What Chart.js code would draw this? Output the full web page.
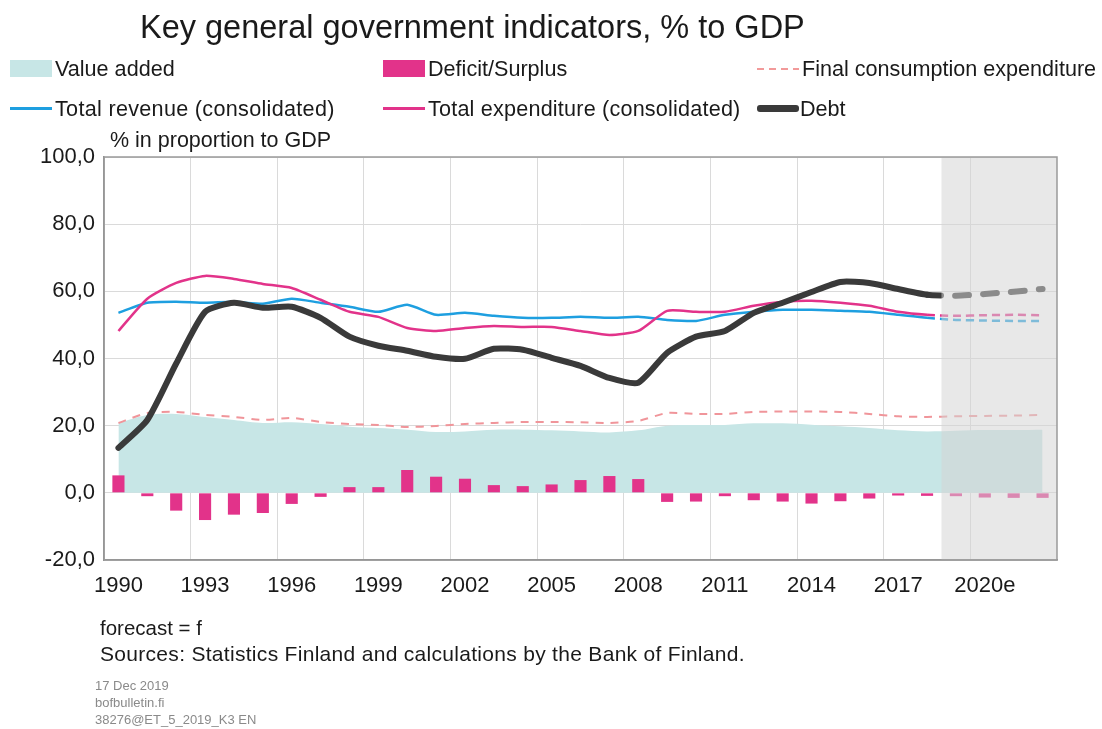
<!DOCTYPE html>
<html>
<head>
<meta charset="utf-8">
<script src="https://cdn.jsdelivr.net/npm/chart.js@4"></script>
<style>
  body { margin: 0; background: #fff; font-family: "Liberation Sans", Arial, sans-serif; color: #1a1a1a; }
  #wrap { position: absolute; left: 0; top: 0; width: 1102px; height: 729px; }
  .txt { position: absolute; white-space: nowrap; line-height: 1; }
  .sw { position: absolute; }
</style>
</head>
<body>
<div id="wrap"><canvas id="govChart"></canvas></div>

<div class="txt" style="left:140px; top:11px; font-size:32.5px;">Key general government indicators, % to GDP</div>

<!-- legend -->
<div class="sw" style="left:10px; top:60px; width:42px; height:17px; background:#c7e6e6;"></div>
<div class="txt" style="left:55px; top:58px; font-size:21.6px;">Value added</div>
<div class="sw" style="left:383px; top:60px; width:42px; height:17px; background:#e2338a;"></div>
<div class="txt" style="left:428px; top:58px; font-size:21.6px;">Deficit/Surplus</div>
<div class="sw" style="left:757px; top:68px; width:42px; height:2px; background:repeating-linear-gradient(90deg,#f29a9a 0 7px,transparent 7px 12px);"></div>
<div class="txt" style="left:802px; top:58px; font-size:21.6px;">Final consumption expenditure</div>

<div class="sw" style="left:10px; top:107px; width:42px; height:3px; background:#1e9fe0;"></div>
<div class="txt" style="left:55px; top:98px; font-size:21.6px; letter-spacing:0.3px;">Total revenue (consolidated)</div>
<div class="sw" style="left:383px; top:107px; width:42px; height:3px; background:#e2338a;"></div>
<div class="txt" style="left:428px; top:98px; font-size:21.6px; letter-spacing:0.2px;">Total expenditure (consolidated)</div>
<div class="sw" style="left:757px; top:105px; width:42px; height:7px; border-radius:3px; background:#3a3a3a;"></div>
<div class="txt" style="left:800px; top:98px; font-size:21.6px;">Debt</div>

<div class="txt" style="left:110px; top:130px; font-size:21.5px;">% in proportion to GDP</div>

<div class="txt" style="left:100px; top:618px; font-size:20.5px;">forecast = f</div>
<div class="txt" style="left:100px; top:643px; font-size:21px; letter-spacing:0.3px;">Sources: Statistics Finland and calculations by the Bank of Finland.</div>
<div class="txt" style="left:95px; top:679px; font-size:13px; color:#8a8a8a;">17 Dec 2019</div>
<div class="txt" style="left:95px; top:696px; font-size:13px; color:#8a8a8a;">bofbulletin.fi</div>
<div class="txt" style="left:95px; top:713px; font-size:13px; color:#8a8a8a;">38276@ET_5_2019_K3 EN</div>

<script>
// categories 1990-2022, forecast from 2019
const years = ['1990', '1991', '1992', '1993', '1994', '1995', '1996', '1997', '1998', '1999',
    '2000', '2001', '2002', '2003', '2004', '2005', '2006', '2007', '2008', '2009',
    '2010', '2011', '2012', '2013', '2014', '2015', '2016', '2017', '2018',
    '2019e', '2020e', '2021e', '2022e'];
const lastActual = 28; // index of 2018

const valueAdded = [20.8, 23.2, 23.5, 22.6, 21.7, 20.8, 21.0, 20.5, 19.7, 19.3,
    18.8, 18.1, 18.3, 18.8, 18.8, 18.6, 18.3, 18.0, 18.6, 20.0,
    20.2, 20.2, 20.7, 20.7, 20.3, 19.8, 19.3, 18.6, 18.3,
    18.5, 18.7, 18.7, 18.8];
const deficitSurplus = [5.2, -1.0, -5.3, -8.1, -6.5, -6.0, -3.3, -1.2, 1.7, 1.7,
    6.8, 4.8, 4.2, 2.3, 2.0, 2.5, 3.8, 5.0, 4.1, -2.7,
    -2.6, -1.0, -2.2, -2.6, -3.2, -2.5, -1.7, -0.8, -0.9,
    -1.0, -1.4, -1.5, -1.5];
const finalConsumption = [20.8, 23.8, 24.1, 23.2, 22.6, 21.7, 22.3, 21.1, 20.5, 20.2,
    19.6, 19.9, 20.5, 20.8, 21.1, 21.1, 21.0, 20.8, 21.4, 23.8,
    23.5, 23.5, 24.1, 24.2, 24.2, 24.1, 23.5, 22.8, 22.6,
    22.8, 22.9, 23.0, 23.2];
const totalRevenue = [53.6, 56.6, 56.9, 56.6, 56.9, 56.3, 57.8, 56.6, 55.4, 53.9,
    56.0, 53.0, 53.6, 52.7, 52.1, 52.1, 52.4, 52.1, 52.4, 51.5,
    51.2, 53.0, 53.9, 54.5, 54.5, 54.2, 53.9, 53.0, 52.1,
    51.5, 51.3, 51.2, 51.2];
const totalExpenditure = [48.2, 57.8, 62.5, 64.6, 63.7, 62.2, 61.0, 57.5, 53.9, 52.4,
    49.1, 48.2, 49.1, 49.7, 49.4, 49.4, 48.2, 47.0, 48.2, 54.2,
    53.9, 53.9, 55.7, 56.9, 57.2, 56.6, 55.7, 53.9, 53.0,
    52.7, 52.9, 53.0, 52.9];
const debt = [13.4, 21.7, 38.5, 53.9, 56.6, 55.1, 55.4, 52.1, 46.5, 43.8,
    42.3, 40.5, 39.9, 42.9, 42.6, 40.2, 37.8, 34.2, 32.8, 41.7,
    46.5, 48.2, 53.6, 56.6, 59.8, 62.8, 62.5, 60.7, 59.0,
    58.7, 59.2, 59.9, 60.7];

const yTicks = [-20, 0, 20, 40, 60, 80, 100];

const isForecast = (c) => c.p0DataIndex >= lastActual;

// translucent grey veil over the forecast years + frame round the plot
const forecastBand = {
    id: 'forecastBand',
    afterDatasetsDraw(chart) {
        const { ctx, chartArea, scales } = chart;
        const x0 = scales.x.getPixelForValue(lastActual + 0.5);
        ctx.save();
        ctx.fillStyle = 'rgba(212, 212, 212, 0.53)';
        ctx.fillRect(x0, chartArea.top, chartArea.right - x0, chartArea.bottom - chartArea.top);
        ctx.strokeStyle = '#9a9a9a';
        ctx.lineWidth = 1.5;
        ctx.strokeRect(chartArea.left, chartArea.top, chartArea.right - chartArea.left, chartArea.bottom - chartArea.top);
        ctx.restore();
    }
};

Chart.defaults.font.family = '"Liberation Sans", Arial, sans-serif';
Chart.defaults.color = '#1a1a1a';

const ctx = document.getElementById('govChart').getContext('2d');
const govChart = new Chart(ctx, {
    type: 'bar',
    data: {
        labels: years,
        datasets: [
            {
                type: 'line',
                label: 'Debt',
                data: debt,
                borderColor: '#3a3a3a',
                borderWidth: 6,
                borderCapStyle: 'round',
                borderJoinStyle: 'round',
                pointRadius: 0,
                tension: 0.2,
                order: 0,
                segment: {
                    borderDash: c => isForecast(c) ? [14, 14] : undefined
                }
            },
            {
                type: 'line',
                label: 'Total expenditure (consolidated)',
                data: totalExpenditure,
                borderColor: '#e2338a',
                borderWidth: 2.5,
                pointRadius: 0,
                tension: 0.2,
                order: 1,
                segment: {
                    borderDash: c => isForecast(c) ? [8, 5] : undefined
                }
            },
            {
                type: 'line',
                label: 'Total revenue (consolidated)',
                data: totalRevenue,
                borderColor: '#1e9fe0',
                borderWidth: 2.5,
                pointRadius: 0,
                tension: 0.2,
                order: 2,
                segment: {
                    borderDash: c => isForecast(c) ? [8, 5] : undefined
                }
            },
            {
                type: 'line',
                label: 'Final consumption expenditure',
                data: finalConsumption,
                borderColor: '#f0959a',
                borderWidth: 2,
                borderDash: [8, 7],
                pointRadius: 0,
                tension: 0.2,
                order: 3
            },
            {
                label: 'Deficit/Surplus',
                data: deficitSurplus,
                backgroundColor: '#e2338a',
                barPercentage: 0.42,
                categoryPercentage: 1,
                order: 4
            },
            {
                type: 'line',
                label: 'Value added',
                data: valueAdded,
                backgroundColor: '#c7e6e6',
                borderWidth: 0,
                pointRadius: 0,
                fill: 'origin',
                tension: 0.3,
                order: 5
            }
        ]
    },
    options: {
        responsive: true,
        maintainAspectRatio: false,
        animation: false,
        layout: {
            padding: { top: 157, left: 0, right: 45, bottom: 109 }
        },
        scales: {
            x: {
                offset: true,
                grid: {
                    offset: true,
                    drawTicks: false,
                    color: c => c.index % 3 === 0 ? '#dadada' : 'rgba(0,0,0,0)'
                },
                border: { color: '#8a8a8a', width: 1.5 },
                ticks: {
                    autoSkip: false,
                    maxRotation: 0,
                    padding: 13,
                    font: { size: 22 },
                    callback: function (value, index) {
                        return index % 3 === 0 ? years[index] : '';
                    }
                },
                afterFit: function (scale) { scale.height = 60; }
            },
            y: {
                min: -20,
                max: 100,
                afterBuildTicks: function (scale) {
                    scale.ticks = yTicks.map(v => ({ value: v }));
                },
                grid: { color: '#dadada', drawTicks: false },
                border: { color: '#8a8a8a', width: 1.5 },
                ticks: {
                    padding: 9,
                    font: { size: 22 },
                    callback: function (value) {
                        return value.toFixed(1).replace('.', ',');
                    }
                },
                afterFit: function (scale) { scale.width = 104; }
            }
        },
        plugins: {
            legend: { display: false },
            tooltip: { enabled: false }
        }
    },
    plugins: [forecastBand]
});
</script>
</body>
</html>
